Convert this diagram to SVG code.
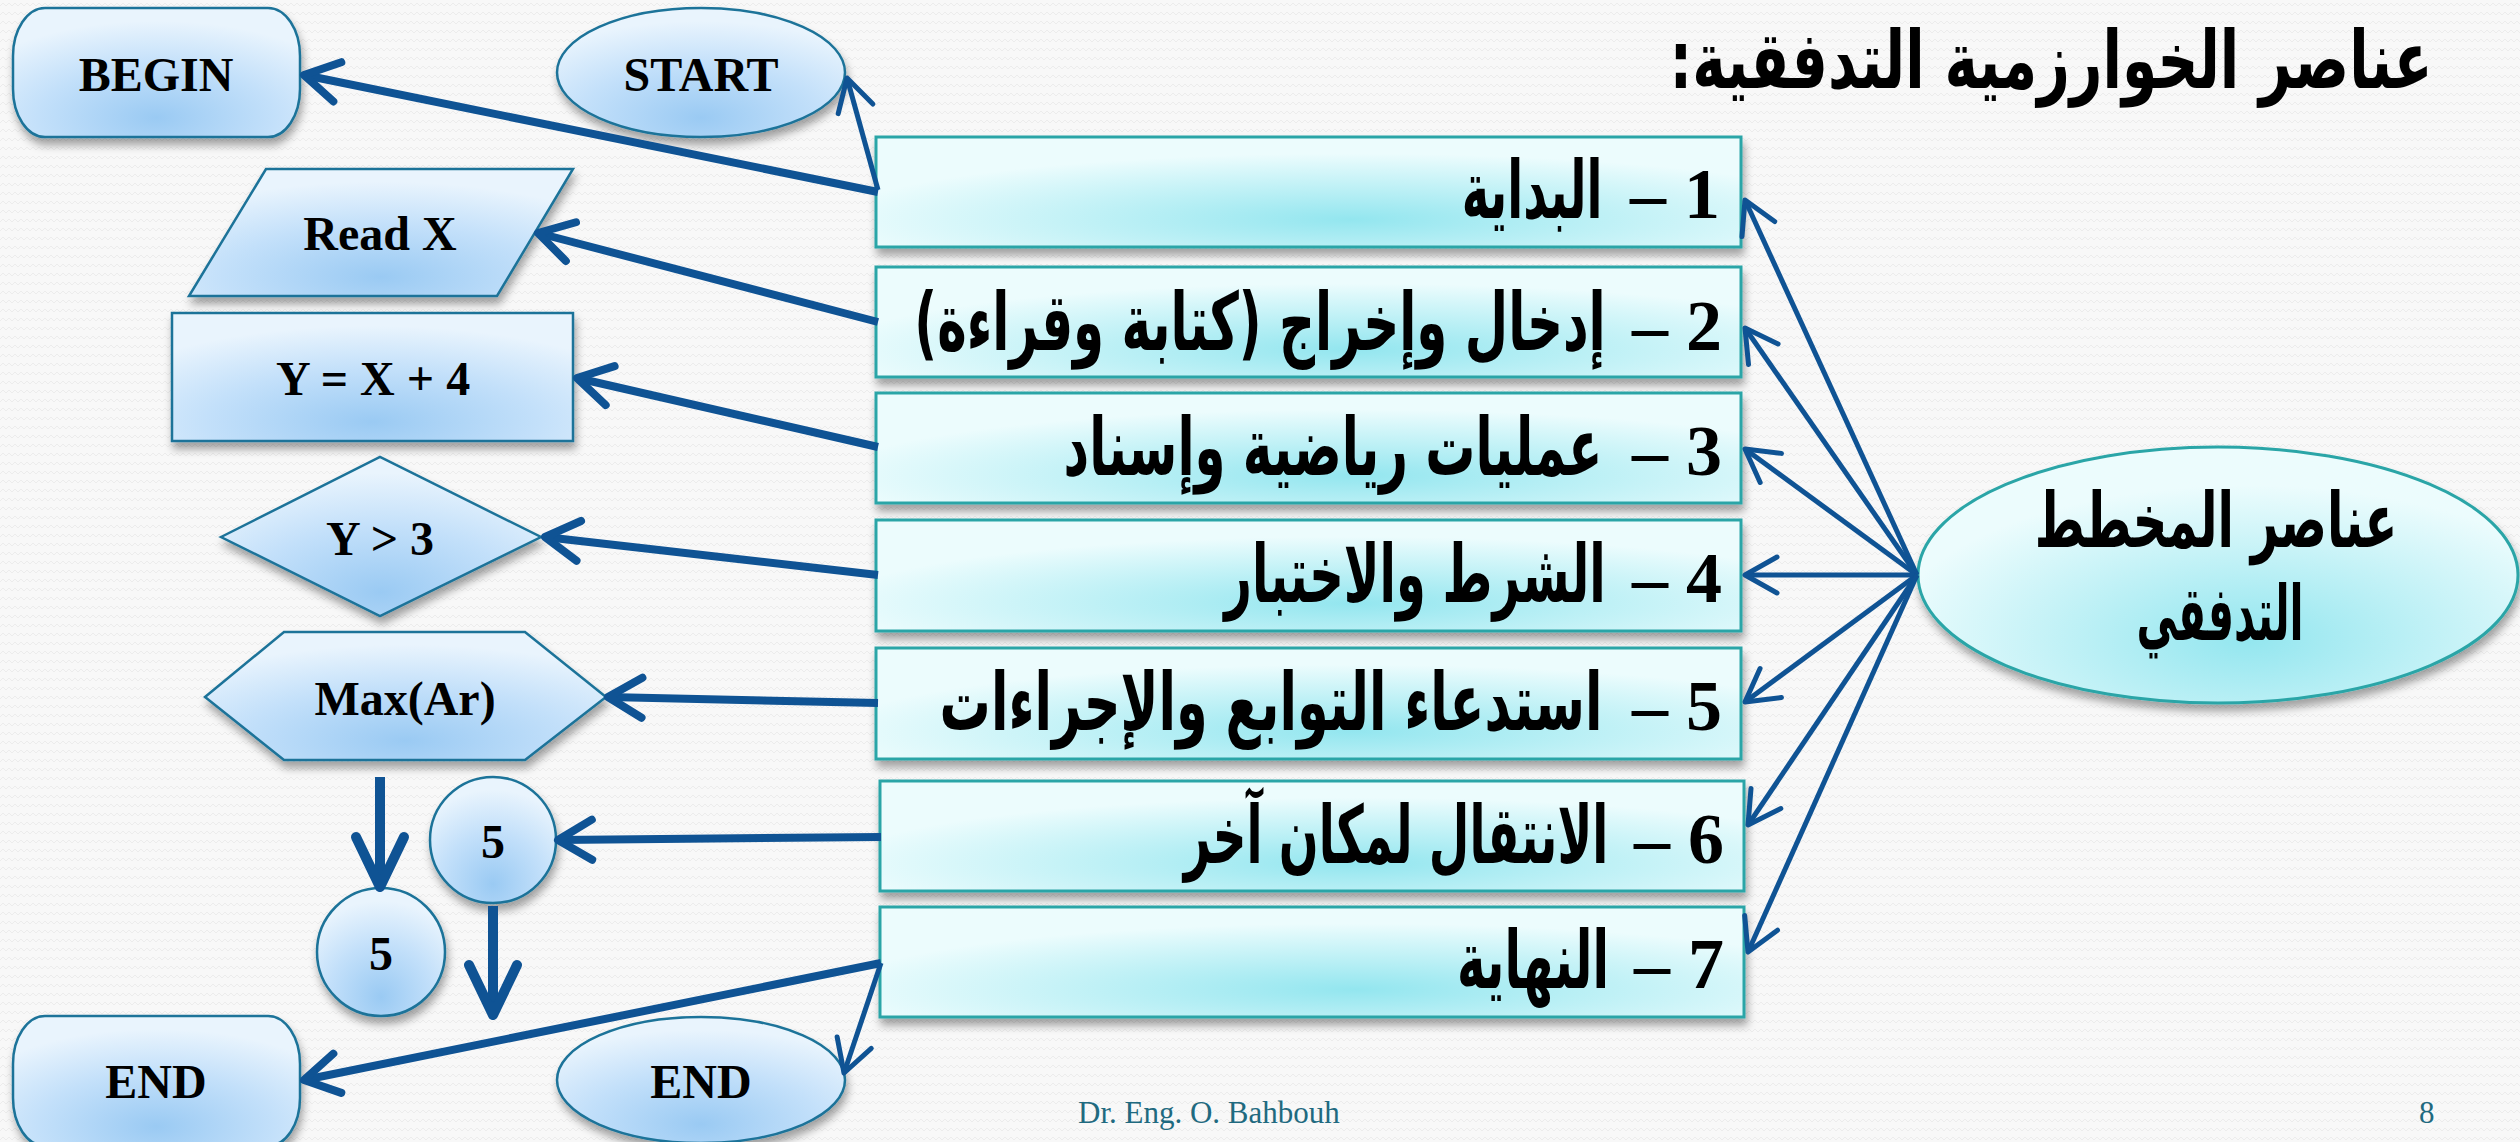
<svg xmlns="http://www.w3.org/2000/svg" width="2520" height="1142" viewBox="0 0 2520 1142">
  <defs>
    <style>
      .lbl { font-family: "Liberation Serif", "Times New Roman", serif; font-weight: bold; font-size: 48px; fill: #000; text-anchor: middle; }
      .num { font-family: "Liberation Serif", "Times New Roman", serif; font-weight: bold; font-size: 72px; fill: #000; text-anchor: end; }
      .ar { font-family: "DejaVu Sans", sans-serif; font-weight: bold; font-size: 80px; fill: #000; text-anchor: middle; direction: rtl; }
      .title { font-family: "DejaVu Sans", sans-serif; font-weight: bold; font-size: 80px; fill: #000; text-anchor: middle; direction: rtl; }
      .hub { font-family: "DejaVu Sans", sans-serif; font-weight: bold; font-size: 76px; fill: #000; text-anchor: middle; direction: rtl; }
      .foot { font-family: "Liberation Serif", "Times New Roman", serif; font-size: 31px; fill: #1f6a80; }
      .shape { fill: url(#blueFill); stroke: #1c7399; stroke-width: 2.5; filter: url(#shadow); }
      .box { fill: url(#cyanFill); stroke: #2aa5a7; stroke-width: 3; filter: url(#shadow); }
      .thick { fill: none; stroke: #0f5394; stroke-width: 8; marker-end: url(#headThick); }
      .thin { fill: none; stroke: #0f5394; stroke-width: 5; marker-end: url(#headThin); }
      .down { fill: none; stroke: #0f5394; stroke-width: 10; marker-end: url(#headDown); }
    </style>
    <pattern id="bgPat" width="12" height="9" patternUnits="userSpaceOnUse">
      <rect width="12" height="9" fill="#f8f8f8"/>
      <path d="M0,6 L3,3 L6,6 L9,3 L12,6" fill="none" stroke="#ececec" stroke-width="1"/>
    </pattern>
    <radialGradient id="blueFill" cx="0.5" cy="0.85" r="0.75">
      <stop offset="0" stop-color="#9acaf3"/>
      <stop offset="0.55" stop-color="#c3e0fa"/>
      <stop offset="1" stop-color="#e9f4fd"/>
    </radialGradient>
    <radialGradient id="cyanFill" cx="0.55" cy="0.75" r="0.6">
      <stop offset="0" stop-color="#93e6ef"/>
      <stop offset="1" stop-color="#ecfcfd"/>
    </radialGradient>
    <filter id="shadow" x="-10%" y="-20%" width="120%" height="160%">
      <feDropShadow dx="2" dy="7" stdDeviation="4" flood-color="#000" flood-opacity="0.35"/>
    </filter>
    <marker id="headThin" markerUnits="userSpaceOnUse" viewBox="-50 -30 60 60" markerWidth="60" markerHeight="60" refX="0" refY="0" orient="auto" overflow="visible">
      <path d="M-32,-18 L0,0 L-32,18" fill="none" stroke="#0f5394" stroke-width="5" stroke-linecap="round" stroke-linejoin="round"/>
    </marker>
    <marker id="headThick" markerUnits="userSpaceOnUse" viewBox="-50 -30 60 60" markerWidth="60" markerHeight="60" refX="0" refY="0" orient="auto" overflow="visible">
      <path d="M-34,-20 L0,0 L-34,20" fill="none" stroke="#0f5394" stroke-width="8" stroke-linecap="round" stroke-linejoin="round"/>
    </marker>
    <marker id="headDown" markerUnits="userSpaceOnUse" viewBox="-60 -35 70 70" markerWidth="70" markerHeight="70" refX="0" refY="0" orient="auto" overflow="visible">
      <path d="M-50,-24 L0,0 L-50,24" fill="none" stroke="#0f5394" stroke-width="10" stroke-linecap="round" stroke-linejoin="round"/>
    </marker>
  </defs>

  <!-- background -->
  <rect width="2520" height="1142" fill="url(#bgPat)"/>

  <!-- heading (condensed horizontally) -->
  <text class="title" transform="translate(2051,88) scale(0.73,1)" x="0" y="0" direction="rtl" textLength="1045" lengthAdjust="spacingAndGlyphs">عناصر الخوارزمية التدفقية:</text>

  <!-- flowchart symbol examples -->
  <g id="begin">
    <rect class="shape" x="13" y="8" width="287" height="129" rx="32" ry="48"/>
    <text class="lbl" x="156" y="91">BEGIN</text>
  </g>
  <g id="start">
    <ellipse class="shape" cx="701" cy="72.5" rx="144" ry="64.5"/>
    <text class="lbl" x="701" y="91">START</text>
  </g>
  <g id="read-x">
    <polygon class="shape" points="266,169 573,169 497,296 189,296"/>
    <text class="lbl" x="380" y="250">Read X</text>
  </g>
  <g id="assign">
    <rect class="shape" x="172" y="313" width="401" height="128"/>
    <text class="lbl" x="373" y="395">Y = X + 4</text>
  </g>
  <g id="condition">
    <polygon class="shape" points="221,537 380,457 541,537 380,616"/>
    <text class="lbl" x="380" y="555">Y &gt; 3</text>
  </g>
  <g id="call">
    <polygon class="shape" points="205,697 284,632 525,632 606,697 525,760 284,760"/>
    <text class="lbl" x="405" y="715">Max(Ar)</text>
  </g>
  <g id="jump-out">
    <ellipse class="shape" cx="493" cy="840" rx="63" ry="63"/>
    <text class="lbl" x="493" y="858">5</text>
  </g>
  <g id="jump-in">
    <ellipse class="shape" cx="381" cy="952" rx="64" ry="64"/>
    <text class="lbl" x="381" y="970">5</text>
  </g>
  <g id="end-terminal">
    <rect class="shape" x="13" y="1016" width="287" height="130" rx="32" ry="48"/>
    <text class="lbl" x="156" y="1098">END</text>
  </g>
  <g id="end-oval">
    <ellipse class="shape" cx="701" cy="1080" rx="144" ry="63"/>
    <text class="lbl" x="701" y="1098">END</text>
  </g>

  <!-- list of element types: number at the right edge, dash, then the condensed Arabic caption -->
  <g id="item-1">
    <rect class="box" x="876" y="137" width="865" height="110"/>
    <text class="num" x="1720" y="218">– 1</text>
    <text class="ar" transform="translate(1532,218) scale(0.62,1)" x="0" y="0" direction="rtl" textLength="227" lengthAdjust="spacingAndGlyphs">البداية</text>
  </g>
  <g id="item-2">
    <rect class="box" x="876" y="267" width="865" height="110"/>
    <text class="num" x="1722" y="350">– 2</text>
    <text class="ar" transform="translate(1260,350) scale(0.62,1)" x="0" y="0" direction="rtl" textLength="1115" lengthAdjust="spacingAndGlyphs">إدخال وإخراج (كتابة وقراءة)</text>
  </g>
  <g id="item-3">
    <rect class="box" x="876" y="393" width="865" height="110"/>
    <text class="num" x="1722" y="475">– 3</text>
    <text class="ar" transform="translate(1333,475) scale(0.62,1)" x="0" y="0" direction="rtl" textLength="869" lengthAdjust="spacingAndGlyphs">عمليات رياضية وإسناد</text>
  </g>
  <g id="item-4">
    <rect class="box" x="876" y="520" width="865" height="111"/>
    <text class="num" x="1722" y="602">– 4</text>
    <text class="ar" transform="translate(1415,602) scale(0.62,1)" x="0" y="0" direction="rtl" textLength="615" lengthAdjust="spacingAndGlyphs">الشرط والاختبار</text>
  </g>
  <g id="item-5">
    <rect class="box" x="876" y="648" width="865" height="111"/>
    <text class="num" x="1722" y="730">– 5</text>
    <text class="ar" transform="translate(1271,730) scale(0.62,1)" x="0" y="0" direction="rtl" textLength="1069" lengthAdjust="spacingAndGlyphs">استدعاء التوابع والإجراءات</text>
  </g>
  <g id="item-6">
    <rect class="box" x="880" y="781" width="864" height="110"/>
    <text class="num" x="1724" y="863">– 6</text>
    <text class="ar" transform="translate(1396,863) scale(0.62,1)" x="0" y="0" direction="rtl" textLength="685" lengthAdjust="spacingAndGlyphs">الانتقال لمكان آخر</text>
  </g>
  <g id="item-7">
    <rect class="box" x="880" y="907" width="864" height="110"/>
    <text class="num" x="1724" y="988">– 7</text>
    <text class="ar" transform="translate(1533,988) scale(0.62,1)" x="0" y="0" direction="rtl" textLength="245" lengthAdjust="spacingAndGlyphs">النهاية</text>
  </g>

  <!-- central concept -->
  <g id="hub">
    <ellipse class="box" cx="2218" cy="575" rx="300" ry="128"/>
    <text class="hub" transform="translate(2216,547) scale(0.65,1)" x="0" y="0" direction="rtl" textLength="558" lengthAdjust="spacingAndGlyphs">عناصر المخطط</text>
    <text class="hub" transform="translate(2220,640) scale(0.55,1)" x="0" y="0" direction="rtl" textLength="304" lengthAdjust="spacingAndGlyphs">التدفقي</text>
  </g>

  <!-- connectors -->
  <g id="connectors">
    <line class="thick" x1="878" y1="192" x2="304" y2="75"/>
    <line class="thin" x1="878" y1="190" x2="847" y2="78"/>
    <line class="thick" x1="878" y1="322" x2="538" y2="233"/>
    <line class="thick" x1="878" y1="447" x2="577" y2="378"/>
    <line class="thick" x1="878" y1="575" x2="545" y2="537"/>
    <line class="thick" x1="878" y1="703" x2="608" y2="697"/>
    <line class="thick" x1="881" y1="837" x2="558" y2="840"/>
    <line class="thick" x1="881" y1="963" x2="304" y2="1080"/>
    <line class="thin" x1="881" y1="963" x2="844" y2="1073"/>
    <line class="down" x1="380" y1="777" x2="380" y2="887"/>
    <line class="down" x1="493" y1="906" x2="493" y2="1015"/>
    <line class="thin" x1="1917" y1="575" x2="1745" y2="200"/>
    <line class="thin" x1="1917" y1="575" x2="1745" y2="328"/>
    <line class="thin" x1="1917" y1="575" x2="1745" y2="449"/>
    <line class="thin" x1="1917" y1="575" x2="1745" y2="575"/>
    <line class="thin" x1="1917" y1="575" x2="1745" y2="702"/>
    <line class="thin" x1="1917" y1="575" x2="1748" y2="825"/>
    <line class="thin" x1="1917" y1="575" x2="1748" y2="952"/>
  </g>

  <!-- footer -->
  <text class="foot" x="1078" y="1123">Dr. Eng. O. Bahbouh</text>
  <text class="foot" x="2419" y="1123">8</text>
</svg>
